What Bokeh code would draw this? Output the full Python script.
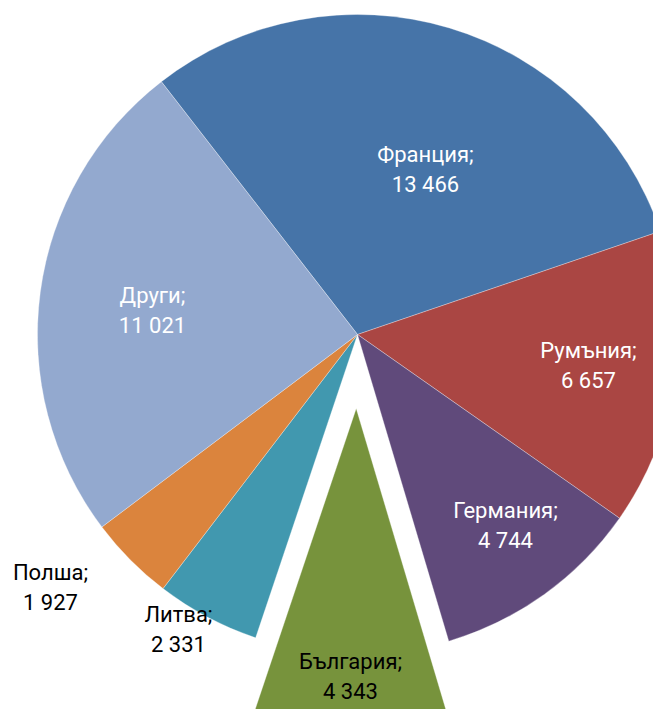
import math
from bokeh.plotting import figure
from bokeh.models import Range1d, ColumnDataSource
from bokeh.core.properties import value
from bokeh.embed import file_html
from bokeh.resources import INLINE

# ---- data ----
categories = ["Франция", "Румъния", "Германия", "България", "Литва", "Полша", "Други"]
values = [13466, 6657, 4744, 4343, 2331, 1927, 11021]

# ---- style / layout ----
colors = ["#4674A8", "#AA4643", "#604A7B", "#77933C", "#4198AF", "#DB843D", "#93A9CF"]
label_colors = ["white", "white", "white", "black", "black", "black", "white"]
explode = [0, 0, 0, 74, 0, 0, 0]
label_pos = [(425, 169), (588, 365), (505, 525), (350, 676), (178, 629), (50, 587), (152, 310)]
CX, CY, R = 357, 334, 320
START_DEG = 127.8
FONT = "Roboto"
FS = "22px"
W, H = 653, 709
PAGE_H = 725

def fy(y):
    return PAGE_H - y

p = figure(width=W, height=H, x_range=Range1d(0, W), y_range=Range1d(PAGE_H - H, PAGE_H),
           output_backend="svg", toolbar_location=None, min_border=0)
p.axis.visible = False
p.grid.visible = False
p.outline_line_color = None
p.background_fill_color = "white"

total = sum(values)
cum = 0.0
xs, ys, starts, ends = [], [], [], []
for v, ex in zip(values, explode):
    a_hi = math.radians(START_DEG - 360.0 * cum / total)
    cum += v
    a_lo = math.radians(START_DEG - 360.0 * cum / total)
    mid = (a_hi + a_lo) / 2
    xs.append(CX + ex * math.cos(mid))
    ys.append(fy(CY) + ex * math.sin(mid))
    starts.append(a_lo)
    ends.append(a_hi)

src = ColumnDataSource(dict(x=xs, y=ys, start=starts, end=ends, color=colors))
p.wedge(x="x", y="y", radius=R, start_angle="start", end_angle="end", fill_color="color",
        line_color="white", line_width=0.6, line_alpha=0.5, source=src)

fmt = lambda v: f"{v:,}".replace(",", " ")
lx = [pt[0] for pt in label_pos]
line1 = dict(x=lx, y=[fy(pt[1]) + 15 for pt in label_pos], text=[c + ";" for c in categories], color=label_colors)
line2 = dict(x=lx, y=[fy(pt[1]) - 15 for pt in label_pos], text=[fmt(v) for v in values], color=label_colors)
for d in (line1, line2):
    p.text(x="x", y="y", text="text", text_color="color", source=ColumnDataSource(d),
           text_font=value(FONT), text_font_size=FS, text_align="center", text_baseline="middle")

open("out.html", "w").write(file_html(p, INLINE))
